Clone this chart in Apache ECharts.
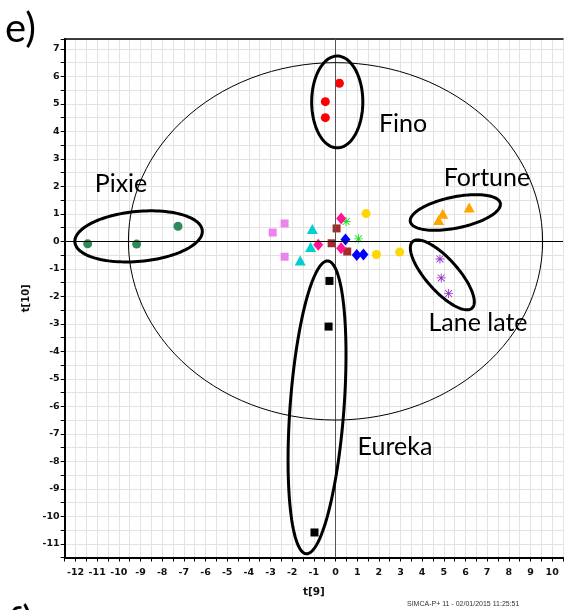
<!DOCTYPE html>
<html><head><meta charset="utf-8">
<script src="https://cdn.jsdelivr.net/npm/echarts@6/dist/echarts.min.js"></script>
<style>html,body{margin:0;padding:0;background:#fff}#c{width:566px;height:610px}</style>
</head><body><div id="c"></div>
<script>
// ---- data (t[9], t[10]) ----
const fino          = [[0.18,5.75],[-0.47,5.08],[-0.47,4.50]];
const pixie         = [[-11.44,-0.09],[-9.18,-0.10],[-7.27,0.55]];
const fortune       = [[6.17,1.23],[4.95,1.00],[4.76,0.78]];
const laneLate      = [[4.82,-0.64],[4.88,-1.33],[5.22,-1.90]];
const eureka        = [[-0.28,-1.44],[-0.32,-3.10],[-0.97,-10.59]];
const violetSquares = [[-2.35,0.65],[-2.90,0.32],[-2.35,-0.56]];
const cyanTriangles = [[-1.07,0.45],[-1.15,-0.21],[-1.63,-0.70]];
const pinkDiamonds  = [[0.26,0.83],[-0.80,-0.12],[0.26,-0.25]];
const brownSquares  = [[0.05,0.47],[-0.18,-0.07],[0.54,-0.37]];
const greenStars    = [[0.49,0.72],[1.06,0.09]];
const blueDiamonds  = [[0.46,0.07],[0.98,-0.50],[1.29,-0.48]];
const goldCircles   = [[1.41,1.01],[1.89,-0.48],[2.96,-0.39]];

// ---- axis settings ----
const xMin = -12.5, xMax = 10.5, yMin = -11.5, yMax = 7.36, tickStep = 0.5;

// ---- annotation ellipses (centre, two semi-axis vectors, in data units) ----
const ellCentres = [[0,0],[0.08,5.07],[-9.09,0.18],[5.53,1.05],[4.93,-1.22],[-0.853,-6.04]];
const ellAxisU   = [[9.56,0],[0,1.67],[2.94,0.213],[2.077,0.335],[1.369,-1.211],[0.498,5.327]];
const ellAxisV   = [[0,6.5],[1.18,0],[0.105,-0.905],[0.144,-0.555],[0.551,0.388],[1.241,-0.072]];
const ellWidth   = [1,3,3,3,3,3];

const starPath = 'path://M0,4.5L10,4.5L10,5.5L0,5.5Z M4.5,0L5.5,0L5.5,10L4.5,10Z M0.8,1.5L1.5,0.8L9.2,8.5L8.5,9.2Z M8.5,0.8L9.2,1.5L1.5,9.2L0.8,8.5Z';

const chart = echarts.init(document.getElementById('c'), null, {renderer:'canvas'});
const lblFont = {fontFamily:'DejaVu Sans', fontWeight:'bold', fontSize:9.5, color:'#111'};
const intFmt = v => (Math.abs(v - Math.round(v)) < 1e-9 ? String(Math.round(v)) : '');

function sc(name, data, symbol, size, color, z){
  return {type:'scatter', name, data, symbol, symbolSize:size, z:z||3,
    itemStyle:{color, opacity:1}, emphasis:{disabled:true}, silent:true};
}

const textG = (txt, x, y, fs, align, extra) => Object.assign({
  type:'text', x, y, z:100, silent:true,
  style:{text:txt, fontFamily:'Lato', fontSize:fs, fill:'#000', align:align||'center', verticalAlign:'middle'}
}, extra||{});

chart.setOption({
  animation:false,
  backgroundColor:'#fff',
  grid:{left:64.7, top:39, width:499.2, height:518.5, containLabel:false},
  xAxis:[{
    type:'value', min:xMin, max:xMax, interval:tickStep,
    axisLine:{onZero:false, lineStyle:{color:'#000', width:2}},
    axisTick:{show:true, length:4, lineStyle:{color:'#000', width:1}},
    axisLabel:Object.assign({formatter:intFmt, margin:10}, lblFont),
    splitLine:{show:true, lineStyle:{color:'#e3e3e3', width:1}},
    name:'t[9]', nameLocation:'middle', nameGap:29,
    nameTextStyle:{fontFamily:'DejaVu Sans', fontWeight:'bold', fontSize:10.5, color:'#111'}
  },{
    type:'value', position:'top', min:xMin, max:xMax,
    axisLine:{onZero:false, lineStyle:{color:'#000', width:1.5}},
    axisTick:{show:false}, axisLabel:{show:false}, splitLine:{show:false}
  }],
  yAxis:{
    type:'value', min:yMin, max:yMax, interval:tickStep,
    axisLine:{onZero:false, lineStyle:{color:'#000', width:2}},
    axisTick:{show:true, length:4, lineStyle:{color:'#000', width:1}},
    axisLabel:Object.assign({formatter:intFmt, margin:5}, lblFont),
    splitLine:{show:true, lineStyle:{color:'#e3e3e3', width:1}},
    name:'t[10]', nameLocation:'middle', nameGap:25, nameRotate:90,
    nameTextStyle:{fontFamily:'DejaVu Sans', fontWeight:'bold', fontSize:10, color:'#111'}
  },
  series:[
    {type:'scatter', data:[], silent:true, z:2,
     markLine:{silent:true, symbol:['none','none'], label:{show:false}, animation:false,
       data:[{xAxis:0, lineStyle:{color:'#555', width:1, type:'solid'}},
             {yAxis:0, lineStyle:{color:'#000', width:1.2, type:'solid'}}]}},
    sc('Violet', violetSquares, 'rect', 8, '#EE82EE'),
    sc('Cyan', cyanTriangles, 'triangle', [11,10], '#00CED1'),
    sc('Brown', brownSquares, 'rect', 8, '#A52A2A'),
    sc('Green', greenStars, starPath, 9, '#22DD22'),
    sc('Pink', pinkDiamonds, 'diamond', [10,12], '#FF1493'),
    sc('Blue', blueDiamonds, 'diamond', [10,12], '#0000FF'),
    sc('Gold', goldCircles, 'circle', 9, '#FFD700'),
    sc('Fino', fino, 'circle', 9, '#FF0000'),
    sc('Pixie', pixie, 'circle', 9, '#2E8B57'),
    sc('Fortune', fortune, 'triangle', [11,10], '#FFA500'),
    sc('Lane late', laneLate, starPath, 9, '#9932CC'),
    sc('Eureka', eureka, 'rect', 8, '#000000'),
    {type:'custom', silent:true, z:5, clip:false,
     data:ellCentres,
     renderItem:function(params, api){
       const i = params.dataIndex, c = ellCentres[i], u = ellAxisU[i], v = ellAxisV[i];
       const pts = [];
       for (let k = 0; k < 120; k++){
         const t = k/120*Math.PI*2, ct = Math.cos(t), st = Math.sin(t);
         pts.push(api.coord([c[0]+u[0]*ct+v[0]*st, c[1]+u[1]*ct+v[1]*st]));
       }
       return {type:'polygon', shape:{points:pts},
               style:{fill:'none', stroke:'#000', lineWidth:ellWidth[i]}};
     }}
  ],
  graphic:[
    textG('e)', 5, 29, 40, 'left'),
    textG('Fino', 403, 124, 25),
    textG('Fortune', 487, 178, 25),
    textG('Pixie', 121, 184, 25),
    textG('Lane late', 478, 323, 25),
    textG('Eureka', 395, 447, 25),
    textG('f)', 8, 622, 40, 'left'),
    {type:'text', x:407, y:604, z:100, silent:true,
     style:{text:'SIMCA-P+ 11 - 02/01/2015 11:25:51', fontFamily:'Liberation Sans', fontSize:7, fill:'#333', align:'left', verticalAlign:'middle'}}
  ]
});
</script></body></html>
